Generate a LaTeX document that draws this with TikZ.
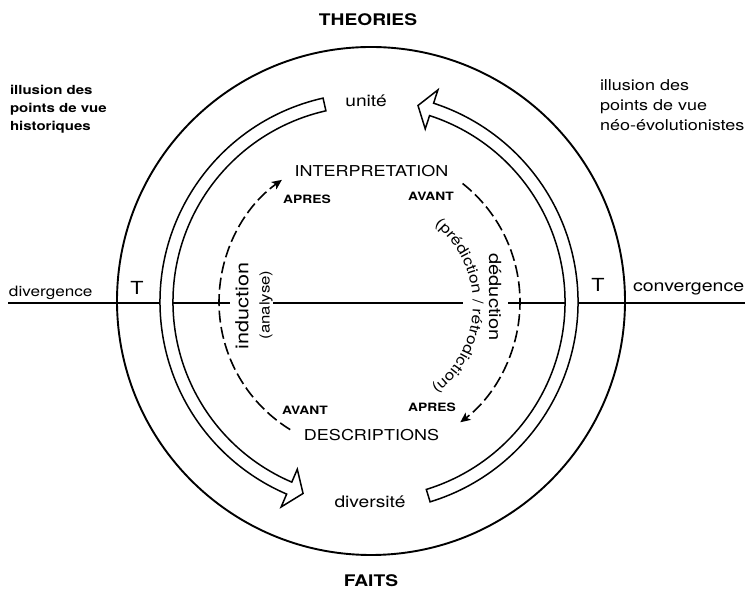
\documentclass[tikz,border=0pt]{standalone}
\usepackage{fontspec}
\setmainfont[FakeStretch=1.2]{TeX Gyre Heros}
\usetikzlibrary{arrows.meta,decorations.text}
\newcommand\myfs[1]{\fontsize{#1}{#1}\selectfont}
\begin{document}
\begin{tikzpicture}[x=1pt,y=1pt,
  lab/.style={inner sep=0pt,outer sep=0pt},
  hline/.style={line width=1.3pt},
  outerc/.style={line width=1.9pt},
  hollow/.style={line width=1.5pt,fill=white,line join=miter},
  dasharc/.style={line width=1.6pt,dash pattern=on 12pt off 4.5pt,
     -{Stealth[length=10pt,width=9pt,inset=2.5pt]}},
  bigbold/.style={lab,font=\myfs{16}\bfseries},
  smallbold/.style={lab,font=\myfs{11.5}\bfseries},
  midtext/.style={lab,font=\myfs{16}},
  caps/.style={lab,font=\myfs{15}}]
\useasboundingbox (0,0) rectangle (748,591);

% horizontal axis
\coordinate (A0) at (8,288);
\coordinate (A1) at (230,288);
\coordinate (A2) at (273,288);
\coordinate (A3) at (463,288);
\coordinate (A4) at (508,288);
\coordinate (A5) at (745,288);
\draw[hline] (A0) -- (A1);
\draw[hline] (A2) -- (A3);
\draw[hline] (A4) -- (A5);

% outer circle
\draw[outerc] (371,290) circle[radius=254];

% hollow arrows and dashed arcs
\begin{scope}[shift={(369,289)}]
  \draw[hollow] (102.7:196) -- (102.7:209)
     arc[start angle=102.7,end angle=246.8,radius=209]
     -- (246.8:223) -- (251:202.5) -- (246.8:182) -- (246.8:196)
     arc[start angle=246.8,end angle=102.7,radius=196] -- cycle;
  \draw[hollow] (-73:196) -- (-73:209)
     arc[start angle=-73,end angle=72,radius=209]
     -- (72:223) -- (76:202.5) -- (72:182) -- (72:196)
     arc[start angle=72,end angle=-73,radius=196] -- cycle;
  \draw[dasharc] (238.3:150) arc[start angle=238.3,end angle=125.5,radius=150];
  \draw[dasharc] (51.7:151) arc[start angle=51.7,end angle=-52.8,radius=151];
\end{scope}

% curved subtitle
\begin{scope}[shift={(370,286)}]
  \path[decorate,decoration={text along path,text align=center,
     text={|\myfs{14.5}|(prédiction / rétrodiction)}}]
     (54:103) arc[start angle=54,end angle=-56,radius=103];
\end{scope}

% labels
\node[bigbold] (theo) at (368,571.5) {THEORIES};
\node[bigbold] (faits) at (371,10) {FAITS};
\node[midtext] (unite) at (366,490) {unité};
\node[midtext] (div) at (370,89.5) {diversité};
\node[caps] (interp) at (371.5,420) {INTERPRETATION};
\node[caps] (descr) at (371.5,156) {DESCRIPTIONS};
\node[smallbold] (ap1) at (307,392) {APRES};
\node[smallbold] (av1) at (431,395) {AVANT};
\node[smallbold] (av2) at (305,181) {AVANT};
\node[smallbold] (ap2) at (432,184) {APRES};
\node[lab,font=\myfs{14.3},anchor=base west] (diverg) at (9,294) {divergence};
\node[lab,font=\myfs{16.3},anchor=base west] (converg) at (633,299) {convergence};
\node[lab,font=\myfs{18},anchor=base] (T1) at (137,296) {T};
\node[lab,font=\myfs{18},anchor=base] (T2) at (598,299) {T};
\node[lab,font=\myfs{18},rotate=90] (induc) at (242,285) {induction};
\node[lab,font=\myfs{14},rotate=90] (anal) at (266,286) {(analyse)};
\node[lab,font=\myfs{16.7},rotate=-90] (deduc) at (495,294) {déduction};
\node[lab,font=\fontsize{12.5}{18}\selectfont\bfseries,align=left,anchor=north west] (illh) at (10,506)
  {illusion des\\points de vue\\historiques};
\node[lab,font=\fontsize{15}{20}\selectfont,align=left,anchor=north west] (illn) at (600,511)
  {illusion des\\points de vue\\néo-évolutionistes};
\end{tikzpicture}
\end{document}
